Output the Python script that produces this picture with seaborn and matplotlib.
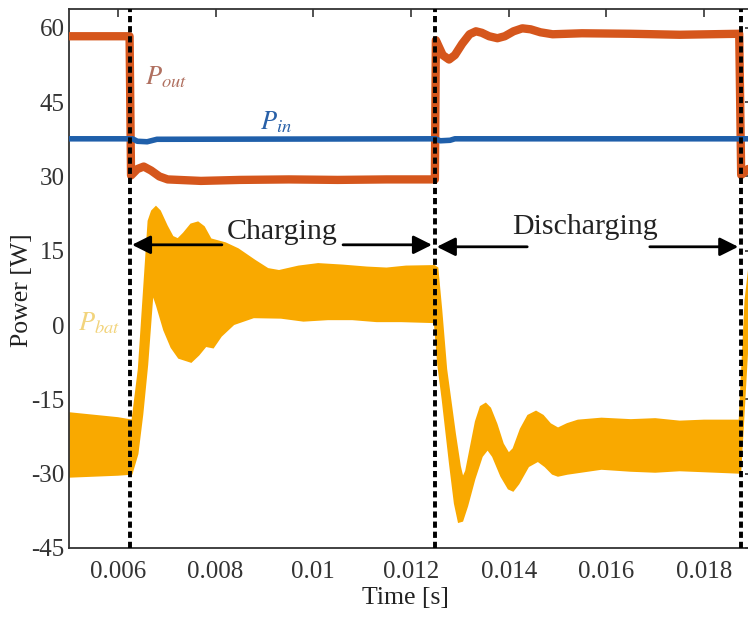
import numpy as np
import pandas as pd
import matplotlib
matplotlib.use("Agg")
import matplotlib.pyplot as plt
import seaborn as sns

# ---------------- data ----------------
pout_t = [0.0050, 0.00624, 0.00627, 0.00640, 0.00653, 0.00668, 0.00685, 0.00702, 0.00770,
          0.00850, 0.00950, 0.01050, 0.01150, 0.01249, 0.01251, 0.01265, 0.01278, 0.01290,
          0.01305, 0.01320, 0.01333, 0.01345, 0.01360, 0.01377, 0.01392, 0.01410, 0.01428,
          0.01445, 0.01465, 0.01490, 0.01550, 0.01650, 0.01750, 0.01872, 0.01876, 0.01890,
          0.01920]
pout_p = [58.3, 58.3, 30.2, 31.5, 32.0, 31.2, 30.0, 29.4, 29.1,
          29.3, 29.4, 29.3, 29.4, 29.4, 57.5, 54.5, 53.6, 54.5,
          56.8, 58.7, 59.3, 59.0, 58.3, 57.9, 58.3, 59.3, 59.9,
          59.7, 59.1, 58.7, 58.9, 58.8, 58.6, 58.8, 30.3, 31.5,
          31.8]

pin_t = [0.0050, 0.00630, 0.00640, 0.00660, 0.00680, 0.01250, 0.01260, 0.01280, 0.01290, 0.01920]
pin_p = [37.6, 37.6, 37.1, 37.0, 37.5, 37.6, 37.2, 37.3, 37.6, 37.6]

pbat_up_t = [0.0050, 0.0055, 0.0060, 0.00630, 0.00643, 0.00663, 0.00670, 0.00678, 0.00686,
             0.00700, 0.00712, 0.00723, 0.00735, 0.00750, 0.00764, 0.00776, 0.00790, 0.00820,
             0.00846, 0.00880, 0.00907, 0.00930, 0.00970, 0.01010, 0.01060, 0.01110, 0.01150,
             0.01190, 0.01248, 0.01254, 0.01262, 0.01272, 0.01290, 0.01300, 0.01306, 0.01313,
             0.01322, 0.01333, 0.01343, 0.01353, 0.01362, 0.01375, 0.01388, 0.01400, 0.01410,
             0.01425, 0.01440, 0.01456, 0.01470, 0.01485, 0.01501, 0.01520, 0.01542, 0.01590,
             0.01650, 0.01700, 0.01750, 0.01800, 0.01873, 0.01885, 0.01900]
pbat_up_p = [-17.8, -18.3, -18.8, -19.3, -8.9, 21.0, 23.0, 23.8, 23.0,
             20.0, 17.8, 17.3, 18.5, 20.3, 20.7, 19.8, 17.3, 16.5,
             15.3, 13.0, 11.3, 10.9, 11.8, 12.3, 12.0, 11.6, 11.4,
             11.8, 11.9, 11.5, 3.0, -8.9, -22.0, -28.5, -31.0, -29.5,
             -25.0, -19.5, -16.5, -15.9, -16.8, -20.0, -24.0, -26.0, -25.0,
             -21.0, -18.3, -17.5, -18.3, -20.0, -20.9, -20.0, -19.3, -18.9,
             -19.2, -19.0, -19.5, -19.3, -19.3, 5.0, 18.0]

pbat_lo_t = [0.0050, 0.0055, 0.0060, 0.00628, 0.00640, 0.00650, 0.00660, 0.00671, 0.00680,
             0.00695, 0.00710, 0.00725, 0.00750, 0.00765, 0.00780, 0.00795, 0.00811, 0.00837,
             0.00878, 0.00934, 0.00980, 0.01030, 0.01080, 0.01130, 0.01180, 0.01249, 0.01256,
             0.01265, 0.01280, 0.01290, 0.01298, 0.01305, 0.01315, 0.01330, 0.01345, 0.01357,
             0.01368, 0.01385, 0.01400, 0.01409, 0.01420, 0.01440, 0.01460, 0.01475, 0.01490,
             0.01501, 0.01520, 0.01548, 0.01590, 0.01650, 0.01700, 0.01750, 0.01800, 0.01874,
             0.01890, 0.01900]
pbat_lo_p = [-30.6, -30.4, -30.2, -30.0, -26.0, -18.0, -8.0, 6.6, 4.0,
             -1.0, -4.5, -6.6, -7.4, -6.0, -4.2, -4.5, -2.2, 0.2,
             1.6, 1.5, 0.9, 1.2, 1.2, 0.8, 0.8, 0.6, -8.0,
             -15.0, -28.0, -36.0, -39.7, -39.5, -36.5, -31.0, -26.5, -25.0,
             -26.5, -30.5, -33.0, -33.4, -32.0, -28.5, -27.4, -28.5, -30.0,
             -30.4, -30.0, -29.6, -29.0, -29.4, -29.6, -29.3, -29.5, -29.8,
             -2.0, 6.0]

switch_times = [0.00625, 0.0125, 0.01875]
xticks = [0.006, 0.008, 0.010, 0.012, 0.014, 0.016, 0.018]
xtick_labels = ['0.006', '0.008', '0.01', '0.012', '0.014', '0.016', '0.018']
yticks = [-45, -30, -15, 0, 15, 30, 45, 60]
ytick_labels = ['-45', '-30', '-15', '0', '15', '30', '45', '60']

# ---------------- style ----------------
sns.set_theme(style="white")
plt.rcParams['font.family'] = ['Liberation Serif', 'DejaVu Serif']
plt.rcParams['mathtext.fontset'] = 'stix'
plt.rcParams['axes.unicode_minus'] = False

c_out = '#D5561C'
c_in = '#1F5FAA'
c_bat = '#F9A900'

fig = plt.figure(figsize=(7.48, 6.17), dpi=100)
ax = fig.add_axes([69 / 748, 69 / 617, 14 * 48.85 / 748, 539 / 617])

# P_bat ripple band (upper envelope followed by reversed lower envelope)
poly_t = pbat_up_t + pbat_lo_t[::-1]
poly_p = pbat_up_p + pbat_lo_p[::-1]
ax.fill(poly_t, poly_p, color=c_bat, lw=1.5, ec=c_bat, zorder=2)

df_out = pd.DataFrame({'t': pout_t, 'P': pout_p})
df_in = pd.DataFrame({'t': pin_t, 'P': pin_p})
sns.lineplot(data=df_out, x='t', y='P', ax=ax, color=c_out, lw=6.0, estimator=None,
             sort=False, zorder=3, solid_capstyle='butt')
sns.lineplot(data=df_in, x='t', y='P', ax=ax, color=c_in, lw=4.0, estimator=None,
             sort=False, zorder=3, solid_capstyle='butt')

for ts in switch_times:
    ax.axvline(ts, color='black', lw=2.8, ls=(0, (1.6, 1.0)), zorder=5)

# annotations
arrow_kw = dict(arrowstyle='-|>', color='black', lw=2.0, mutation_scale=28,
                shrinkA=0, shrinkB=0)
ax.annotate('', xy=(0.00629, 16.2), xytext=(0.00813, 16.2), arrowprops=arrow_kw, zorder=6)
ax.annotate('', xy=(0.01243, 16.2), xytext=(0.01061, 16.2), arrowprops=arrow_kw, zorder=6)
ax.annotate('', xy=(0.01253, 15.8), xytext=(0.01438, 15.8), arrowprops=arrow_kw, zorder=6)
ax.annotate('', xy=(0.01870, 15.8), xytext=(0.01689, 15.8), arrowprops=arrow_kw, zorder=6)
ax.text(0.00936, 18.8, 'Charging', fontsize=21.5, ha='center', va='center', color='#222222', zorder=6)
ax.text(0.01556, 19.8, 'Discharging', fontsize=21.5, ha='center', va='center', color='#222222', zorder=6)

ax.text(0.006556, 50.0, r'$P_{out}$', fontsize=19, color='#B07060', ha='left', va='center', zorder=6)
ax.text(0.00891, 41.0, r'$P_{in}$', fontsize=19, color='#2860A8', ha='left', va='center', zorder=6)
ax.text(0.005184, 0.4, r'$P_{bat}$', fontsize=19, color='#F2D47C', ha='left', va='center', zorder=6)

ax.set_xlim(0.005, 0.019)
ax.set_ylim(-45, 63.8)
ax.set_xticks(xticks)
ax.set_xticklabels(xtick_labels)
ax.set_yticks(yticks)
ax.set_yticklabels(ytick_labels)
ax.tick_params(axis='both', direction='in', length=6, width=1.2, top=True, right=True,
               labelsize=18, colors='#333333')
ax.tick_params(axis='x', pad=9)
ax.tick_params(axis='y', pad=3)
for s in ax.spines.values():
    s.set_color('#333333')
    s.set_linewidth(1.3)

ax.set_xlabel('Time [s]', fontsize=18.5, color='#222222', labelpad=3)
ax.set_ylabel('Power [W]', fontsize=18.5, color='#222222')
ax.yaxis.set_label_coords(-0.053, 0.479)
ax.xaxis.set_label_coords(0.492, -0.072)
ax.xaxis.label.set_va('top')

fig.savefig('out.png', dpi=100)
